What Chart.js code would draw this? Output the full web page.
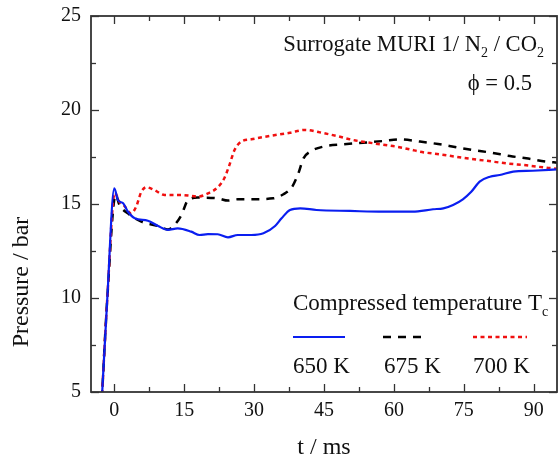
<!DOCTYPE html>
<html><head><meta charset="utf-8">
<script src="https://cdn.jsdelivr.net/npm/chart.js@4/dist/chart.umd.min.js"></script>
<style>html,body{margin:0;padding:0;background:#fff}</style>
</head><body>
<canvas id="c" width="558" height="462" style="display:block;width:558px;height:462px"></canvas>
<script>
// ---- data ----
const t650 = [-2.7, -1.5, 0, 0.8, 1.9, 2.9, 4.4, 7.2, 9.4, 11.5, 13.6, 16.5, 18.3, 20.1, 22.2, 24.4, 26.5, 29.4, 32, 34.5, 35.9, 37.7, 39.9, 43.4, 50.6, 57.7, 64, 68.4, 70.6, 72.7, 74.8, 76.6, 78.4, 80.6, 82.7, 85.6, 89.8, 95];
const p650 = [4.5, 10, 15.83, 15.2, 15.04, 14.6, 14.24, 14.11, 13.83, 13.62, 13.7, 13.53, 13.35, 13.4, 13.39, 13.23, 13.35, 13.35, 13.44, 13.83, 14.24, 14.68, 14.77, 14.68, 14.63, 14.59, 14.59, 14.72, 14.77, 14.95, 15.25, 15.65, 16.19, 16.45, 16.54, 16.72, 16.77, 16.84];
const t675 = [-2.7, -1.5, 0.3, 1.1, 2.9, 5.8, 9.4, 11.5, 12.9, 14.4, 15.8, 17.9, 22.2, 24.4, 26.5, 29.4, 34.1, 36.3, 38.1, 39.5, 40.6, 42, 44.8, 49.1, 53.4, 57.7, 61.3, 65.6, 69.5, 73.4, 77, 80.9, 84.9, 88.4, 92.7, 95];
const p675 = [4.5, 10, 15.5, 14.95, 14.5, 14.06, 13.83, 13.65, 13.88, 14.41, 15.2, 15.34, 15.3, 15.18, 15.25, 15.25, 15.3, 15.52, 15.89, 16.63, 17.43, 17.78, 18.05, 18.17, 18.26, 18.35, 18.44, 18.32, 18.19, 18.02, 17.87, 17.73, 17.55, 17.43, 17.25, 17.2];
const t700 = [-2.7, -1.5, 0.1, 1.1, 2.2, 3.6, 4.7, 5.8, 6.9, 8.6, 10.8, 13.6, 15.8, 17.9, 20.1, 22.2, 23.6, 24.7, 25.8, 27.2, 29.4, 33.4, 37.7, 40.9, 44.1, 47.7, 51.3, 55.6, 59.8, 63.4, 65.6, 69.9, 75.6, 79.9, 84.1, 88.4, 92.7, 95];
const p700 = [4.5, 10, 15.6, 15.12, 14.89, 14.5, 14.86, 15.65, 15.89, 15.74, 15.48, 15.48, 15.45, 15.39, 15.56, 15.89, 16.37, 17.07, 17.87, 18.31, 18.44, 18.62, 18.79, 18.94, 18.81, 18.62, 18.4, 18.23, 18.08, 17.91, 17.78, 17.64, 17.43, 17.3, 17.16, 17.06, 16.93, 16.88];
const seriesLabels = ['650 K', '675 K', '700 K'];
const xMajorTicks = [0, 15, 30, 45, 60, 75, 90];
const xMinorTicks = [7.5, 22.5, 37.5, 52.5, 67.5, 82.5];
const yMajorTicks = [5, 10, 15, 20, 25];
const yMinorTicks = [7.5, 12.5, 17.5, 22.5];

const serif = '"Liberation Serif","Times New Roman",serif';
const pts = (t, p) => t.map((v, i) => ({x: v, y: p[i]}));
const colors = ['#0a1ef0', '#000000', '#f01010'];
const dashes = [[], [8, 7], [4, 3.5]];
const widths = [2.2, 2.5, 2.5];

function drawRich(ctx, parts, x, y, size, align) {
  const subSize = Math.round(size * 0.62);
  let total = 0;
  parts.forEach(p => { ctx.font = (p.sub ? subSize : size) + 'px ' + serif; total += ctx.measureText(p.t).width; });
  let cx = align === 'right' ? x - total : x;
  ctx.textAlign = 'left'; ctx.textBaseline = 'alphabetic';
  parts.forEach(p => {
    ctx.font = (p.sub ? subSize : size) + 'px ' + serif;
    ctx.fillText(p.t, cx, p.sub ? y + 6 : y);
    cx += ctx.measureText(p.t).width;
  });
}

const deco = {
  id: 'deco',
  afterDatasetsDraw(chart) {
    const {ctx, chartArea: a, scales: {x, y}} = chart;
    ctx.save();
    ctx.strokeStyle = '#333';
    const ln = (x1, y1, x2, y2) => { ctx.beginPath(); ctx.moveTo(x1, y1); ctx.lineTo(x2, y2); ctx.stroke(); };
    ctx.lineWidth = 1.3;
    const maj = 8, mn = 5;
    xMajorTicks.forEach(v => { const px = Math.round(x.getPixelForValue(v)) + 0.5; ln(px, a.bottom, px, a.bottom - maj); ln(px, a.top, px, a.top + maj); });
    xMinorTicks.forEach(v => { const px = Math.round(x.getPixelForValue(v)) + 0.5; ln(px, a.bottom, px, a.bottom - mn); ln(px, a.top, px, a.top + mn); });
    yMajorTicks.forEach(v => { const py = Math.round(y.getPixelForValue(v)) + 0.5; ln(a.left, py, a.left + maj, py); ln(a.right, py, a.right - maj, py); });
    yMinorTicks.forEach(v => { const py = Math.round(y.getPixelForValue(v)) + 0.5; ln(a.left, py, a.left + mn, py); ln(a.right, py, a.right - mn, py); });
    ctx.lineWidth = 1.8;
    ctx.strokeRect(a.left, a.top, a.right - a.left, a.bottom - a.top);

    ctx.fillStyle = '#111';
    drawRich(ctx, [{t: 'Surrogate MURI 1/ N'}, {t: '2', sub: true}, {t: ' / CO'}, {t: '2', sub: true}], 544, 51, 22.6, 'right');
    drawRich(ctx, [{t: '\u03d5 = 0.5'}], 532, 90, 22.6, 'right');
    drawRich(ctx, [{t: 'Compressed temperature T'}, {t: 'c', sub: true}], 293, 310, 23, 'left');

    const legX = [[293, 345], [383, 428], [473, 527]];
    const labX = [293, 384, 473];
    legX.forEach((r, i) => {
      ctx.save();
      ctx.strokeStyle = colors[i]; ctx.lineWidth = widths[i]; ctx.setLineDash(dashes[i]);
      ln(r[0], 337, r[1], 337);
      ctx.restore();
      drawRich(ctx, [{t: seriesLabels[i]}], labX[i], 373, 23, 'left');
    });

    // y-axis title
    ctx.save();
    ctx.translate(22, 282);
    ctx.rotate(-Math.PI / 2);
    ctx.font = '24px ' + serif;
    ctx.textAlign = 'center'; ctx.textBaseline = 'middle';
    ctx.fillText('Pressure / bar', 0, 0);
    ctx.restore();
    ctx.restore();
  }
};

const mk = (i, t, p) => ({
  label: seriesLabels[i], data: pts(t, p), borderColor: colors[i], borderWidth: widths[i],
  borderDash: dashes[i], pointRadius: 0, fill: false, cubicInterpolationMode: 'monotone'
});

new Chart(document.getElementById('c'), {
  type: 'line',
  data: { datasets: [mk(0, t650, p650), mk(2, t700, p700), mk(1, t675, p675)] },
  options: {
    responsive: false, animation: false, devicePixelRatio: 1,
    layout: { padding: { top: 16, right: 1, left: 0, bottom: 0 } },
    plugins: { legend: { display: false }, tooltip: { enabled: false } },
    scales: {
      x: {
        type: 'linear', min: -5, max: 95,
        afterBuildTicks: s => { s.ticks = xMajorTicks.map(v => ({value: v})); },
        afterFit: s => { s.height = 70; s.paddingLeft = 0; s.paddingRight = 0; },
        grid: { display: false, drawTicks: false }, border: { display: false },
        ticks: { color: '#111', font: { family: serif, size: 20, lineHeight: 1 }, padding: 9, maxRotation: 0 },
        title: { display: true, text: 't / ms', color: '#111', font: { family: serif, size: 24 }, padding: { top: 0, bottom: 0 } }
      },
      y: {
        type: 'linear', min: 5, max: 25,
        afterBuildTicks: s => { s.ticks = yMajorTicks.map(v => ({value: v})); },
        afterFit: s => { s.width = 91; s.paddingTop = 0; s.paddingBottom = 0; },
        grid: { display: false, drawTicks: false }, border: { display: false },
        ticks: { color: '#111', font: { family: serif, size: 20, lineHeight: 1 }, padding: 10 }
      }
    }
  },
  plugins: [deco]
});
</script>
</body></html>
